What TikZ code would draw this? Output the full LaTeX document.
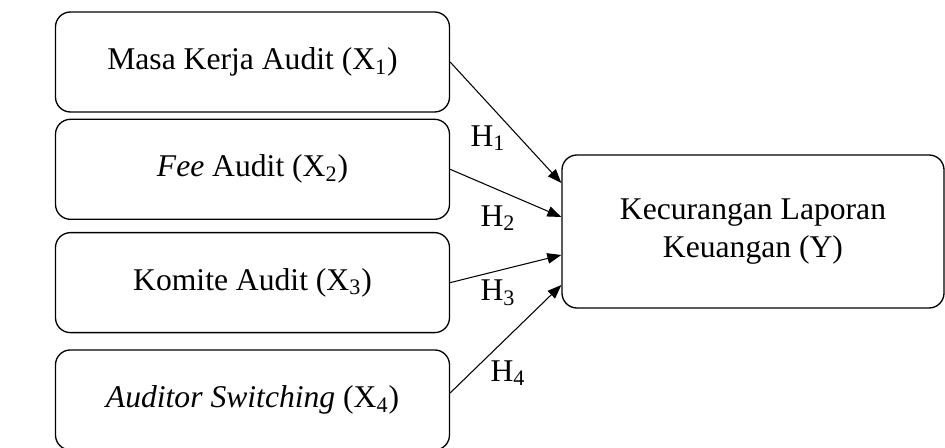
\documentclass[tikz,border=0pt]{standalone}
\usepackage{fontspec}
\setmainfont{Liberation Serif}
\usepackage{tikz}
\usetikzlibrary{calc, arrows.meta, positioning}

\begin{document}
\begin{tikzpicture}[
        node distance = 0.12cm,
        varbox/.style = {draw, rectangle, rounded corners=8.5pt, minimum width=7.88cm, minimum height=2.0cm, align=center, font=\fontsize{18}{22}\selectfont, line width=0.75pt},
        hyplabel/.style = {font=\fontsize{18}{22}\selectfont, inner sep=0pt},
        arrow/.style = {draw, -{Triangle[length=0.28cm, width=0.21cm]}, line width=0.6pt}
    ]
        \useasboundingbox (0,0) rectangle (18.9,-8.96);

        % Independent variables
        \node (masaKerja) [varbox] at (5.05,-1.24) {Masa Kerja Audit (X\textsubscript{1})};
        \node (feeAudit) [varbox, below=0.12cm of masaKerja] {\textit{Fee} Audit (X\textsubscript{2})};
        \node (komite) [varbox, below=0.24cm of feeAudit] {Komite Audit (X\textsubscript{3})};
        \node (switching) [varbox, below=0.32cm of komite] {\textit{Auditor Switching} (X\textsubscript{4})};

        % Dependent variable
        \node (kecurangan) [varbox, minimum width=7.64cm, minimum height=3.06cm] at (15.06,-4.63) {Kecurangan Laporan\\Keuangan (Y)};

        % Hypotheses
        \draw [arrow] (masaKerja.east) -- ($(kecurangan.west)+(0,0.97)$);
        \draw [arrow] (feeAudit.east) -- ($(kecurangan.west)+(0,0.29)$);
        \draw [arrow] (komite.east) -- ($(kecurangan.west)+(0,-0.47)$);
        \draw [arrow] ($(switching.east)+(0,0.14)$) -- ($(kecurangan.west)+(0,-1.07)$);

        \node (h1) [hyplabel] at (9.76,-2.76) {H\textsubscript{1}};
        \node (h2) [hyplabel] at (9.96,-4.36) {H\textsubscript{2}};
        \node (h3) [hyplabel] at (9.96,-5.86) {H\textsubscript{3}};
        \node (h4) [hyplabel] at (10.16,-7.46) {H\textsubscript{4}};

    \end{tikzpicture}
\end{document}
